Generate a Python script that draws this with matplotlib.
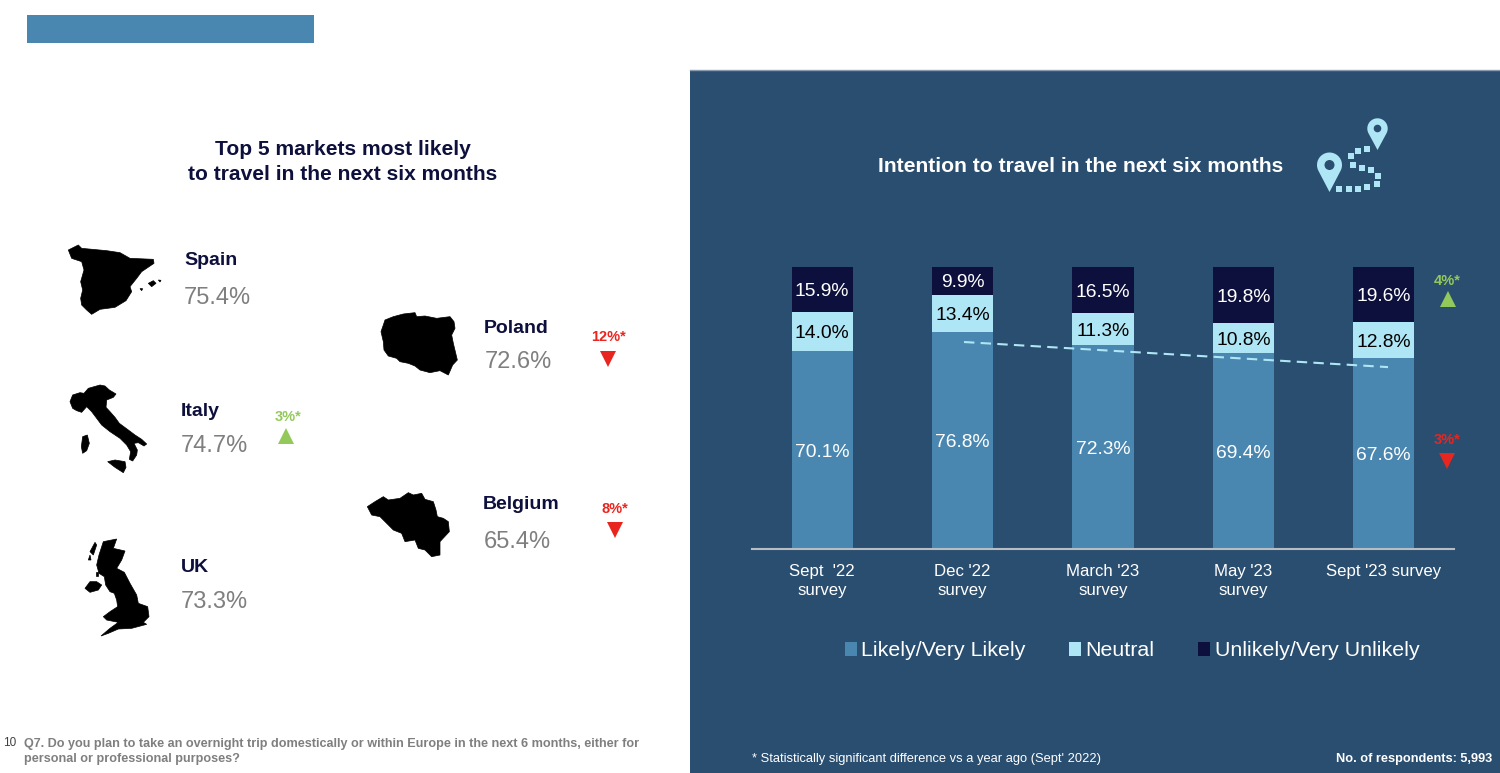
import matplotlib
matplotlib.use("Agg")
import matplotlib.pyplot as plt
import numpy as np
from matplotlib.patches import Polygon, Rectangle, Circle

plt.rcParams["font.family"] = ["Liberation Sans", "DejaVu Sans"]

# bar chart data
surveys = ["Sept  '22\nsurvey", "Dec '22\nsurvey", "March '23\nsurvey", "May '23\nsurvey", "Sept '23 survey"]
likely = [70.1, 76.8, 72.3, 69.4, 67.6]
neutral = [14.0, 13.4, 11.3, 10.8, 12.8]
unlikely = [15.9, 9.9, 16.5, 19.8, 19.6]
trend_x = [1.01, 4.03]
trend_y = [73.4, 64.5]

# left panel data
markets = ["Spain", "Italy", "UK", "Poland", "Belgium"]
market_share = [75.4, 74.7, 73.3, 72.6, 65.4]
market_change = [None, "3%*", None, "12%*", "8%*"]
market_up = [None, True, None, False, False]

PANEL = "#2A4E70"
BLUE = "#4A87B0"
LIGHT = "#AEE6F5"
DARK = "#0D0F3C"
GREEN = "#93C95A"
RED = "#E8261F"

# map outlines, (x, y) in zoomed crop pixels
spain = [[(85,60),(115,45),(125,55),(200,62),(240,68),(270,85),(340,88),(342,100),(305,125),(290,145),(270,170),
          (275,185),(258,212),(225,232),(180,238),(155,253),(140,240),(125,225),(122,205),(128,180),(122,155),
          (132,120),(125,95),(95,85)],
         [(325,160),(340,152),(348,160),(335,170)], [(300,176),(308,176),(305,182)], [(355,150),(363,151),(360,156)]]
italy = [[(30,65),(38,45),(60,38),(72,40),(85,25),(120,15),(135,18),(148,30),(168,42),(160,52),(140,60),(138,82),
          (150,95),(165,112),(178,130),(205,150),(225,165),(245,178),(260,192),(252,198),(235,188),(222,190),
          (232,210),(230,225),(218,243),(208,238),(212,215),(200,195),(180,175),(150,155),(125,135),(110,115),
          (95,95),(80,80),(65,97),(50,92),(38,85)],
         [(68,170),(82,165),(88,190),(80,212),(68,220),(64,200)],
         [(143,245),(165,240),(195,245),(198,262),(190,278),(165,262)]]
uk = [[(85,20),(125,12),(115,40),(150,48),(140,75),(125,100),(148,112),(165,145),(185,180),(190,205),(218,215),
       (222,245),(205,262),(215,268),(170,280),(130,282),(100,295),(78,303),(105,280),(130,262),(95,255),(85,245),
       (105,230),(128,215),(125,195),(118,175),(105,170),(92,150),(88,125),(72,115),(65,90),(72,60)],
      [(30,160),(45,140),(65,140),(80,150),(70,165),(45,172)],
      [(45,50),(60,22),(65,30),(55,60)], [(40,75),(45,60),(48,75)], [(62,112),(70,112),(70,122),(62,122)]]
poland = [[(105,60),(130,50),(160,42),(195,38),(200,50),(225,48),(260,55),(300,50),(312,65),(315,85),(305,105),
           (310,130),(322,180),(308,195),(295,225),(270,212),(240,218),(210,210),(195,198),(175,190),(150,185),
           (140,175),(115,168),(102,150),(100,125),(93,95),(100,75)]]
belgium = [[(52,620),(75,605),(100,590),(115,600),(150,595),(175,578),(190,585),(215,580),(225,598),(250,605),
            (258,630),(262,650),(280,655),(295,665),(298,695),(270,725),(270,765),(245,770),(225,750),(205,745),
            (195,720),(165,725),(155,700),(130,690),(110,670),(90,650),(65,645)]]
trail = [(232,148),(205,153),(182,168),(190,195),(215,203),(243,210),(265,228),(262,253),(232,262),(205,266),(177,267),(148,267)]

fig = plt.figure(figsize=(15, 7.73), dpi=100, facecolor="white")

# page overlay in pixel coordinates, y pointing down like the picture
bg = fig.add_axes([0, 0, 1, 1])
bg.set_xlim(0, 1500)
bg.set_ylim(773, 0)
bg.axis("off")

bg.add_patch(Rectangle((27, 15), 287, 28, color=BLUE, lw=0))
bg.add_patch(Rectangle((690, 70), 810, 703, color=PANEL, lw=0))
bg.plot([690, 1500], [69.5, 69.5], color="#8A9BB0", lw=1)


def zoomed(points, ox, oy):
    return [(ox + x / 3, oy + y / 3) for x, y in points]


for shapes, ox, oy in [(spain, 40, 230), (italy, 60, 380), (uk, 75, 535), (poland, 350, 300), (belgium, 350, 300)]:
    for s in shapes:
        bg.add_patch(Polygon(zoomed(s, ox, oy), closed=True, color="black", lw=0.5))

# left panel text
bg.text(342.5, 162, "Top 5 markets most likely\nto travel in the next six months", ha="center", va="center",
        fontsize=15.1, fontweight="bold", color=DARK, linespacing=1.36)

name_pos = [(184.5, 260.5), (181, 411.5), (181, 567.5), (484, 328.5), (483, 504.5)]
share_pos = [(184, 298.5), (181, 445.5), (181, 601.5), (485, 362.5), (484, 541.5)]
change_pos = [None, (288, 417), None, (608.5, 337), (615, 509)]
tri_pos = [None, (285.5, 436), None, (608, 359), (615, 530)]

for i, name in enumerate(markets):
    bg.text(name_pos[i][0], name_pos[i][1], name, va="center", fontsize=14, fontweight="bold", color=DARK)
    bg.text(share_pos[i][0], share_pos[i][1], f"{market_share[i]}%", va="center", fontsize=17, color="#7F7F7F")
    if market_change[i]:
        c = GREEN if market_up[i] else RED
        bg.text(change_pos[i][0], change_pos[i][1], market_change[i], ha="center", va="center", fontsize=10.5,
                fontweight="bold", color=c)
        bg.plot(tri_pos[i][0], tri_pos[i][1], marker="^" if market_up[i] else "v", ms=11, color=c, mew=0)

# right panel text
bg.text(1080.5, 166, "Intention to travel in the next six months", ha="center", va="center", fontsize=15.25,
        fontweight="bold", color="white")


def pin(cx, cy, r, tip, hole):
    # teardrop: head arc plus the two tangents down to the tip
    d = tip - cy
    a = np.arccos(r / d)
    t = np.linspace(np.pi / 2 + a, 2 * np.pi + np.pi / 2 - a, 40)
    pts = list(zip(cx + r * np.cos(t), cy + r * np.sin(t))) + [(cx, tip)]
    bg.add_patch(Polygon(pts, closed=True, color=LIGHT, lw=0))
    bg.add_patch(Circle((cx, cy), hole, color=PANEL, lw=0))


pin(1329.5, 165, 12.5, 192, 5)
pin(1377.5, 128.5, 10.2, 150, 3.8)
tx, ty = zip(*zoomed(trail, 1290, 100))
bg.scatter(tx, ty, marker="s", s=17, color=LIGHT, lw=0)

# significance markers next to the bars
bg.text(1447, 281, "4%*", ha="center", va="center", fontsize=10.5, fontweight="bold", color=GREEN)
bg.plot(1447.5, 299, marker="^", ms=11, color=GREEN, mew=0)
bg.text(1447, 440, "3%*", ha="center", va="center", fontsize=10.5, fontweight="bold", color=RED)
bg.plot(1447, 461, marker="v", ms=11, color=RED, mew=0)

# footers
bg.text(3, 743, "10", va="center", fontsize=8.5, color="#404040")
bg.text(24, 751.5, "Q7. Do you plan to take an overnight trip domestically or within Europe in the next 6 months, either for\npersonal or professional purposes?",
        va="center", fontsize=9.12, fontweight="bold", color="#7F7F7F", linespacing=1.3)
bg.text(752, 759, "* Statistically significant difference vs a year ago (Sept' 2022)", va="center", fontsize=9.27,
        color="white")
bg.text(1492, 759, "No. of respondents: 5,993", ha="right", va="center", fontsize=9.2, color="white", fontweight="bold")

# stacked bars
ax = fig.add_axes([752 / 1500, (773 - 549) / 773, 702 / 1500, 282 / 773])
ax.patch.set_alpha(0)
x = list(range(len(surveys)))
base2 = [a + b for a, b in zip(likely, neutral)]
b1 = ax.bar(x, likely, width=0.435, color=BLUE, label="Likely/Very Likely")
b2 = ax.bar(x, neutral, width=0.435, bottom=likely, color=LIGHT, label="Neutral")
b3 = ax.bar(x, unlikely, width=0.435, bottom=base2, color=DARK, label="Unlikely/Very Unlikely")
for bars, vals, c in [(b1, likely, "white"), (b2, neutral, "black"), (b3, unlikely, "white")]:
    ax.bar_label(bars, labels=[f"{v:.1f}%" for v in vals], label_type="center", color=c, fontsize=13.9, padding=-1.5)
ax.plot(trend_x, trend_y, color=LIGHT, lw=1.5, ls=(0, (5, 3)))

ax.set_xlim(-0.5, 4.5)
ax.set_ylim(0, 100)
ax.set_xticks(x, surveys)
ax.set_yticks([])
ax.tick_params(axis="x", length=0, pad=11, colors="white", labelsize=12.1)
for label in ax.get_xticklabels():
    label.set_linespacing(1.32)
for s in ["top", "left", "right"]:
    ax.spines[s].set_visible(False)
ax.spines["bottom"].set_color("#B8BDC2")
ax.spines["bottom"].set_linewidth(1.5)

ax.legend(loc="center", bbox_to_anchor=(1132 / 1500, (773 - 651) / 773), bbox_transform=fig.transFigure, ncol=3,
          frameon=False, labelcolor="white", fontsize=15.4, handlelength=0.56, handleheight=0.65, handletextpad=0.2,
          columnspacing=2.05)

fig.savefig("out.png", dpi=100)
